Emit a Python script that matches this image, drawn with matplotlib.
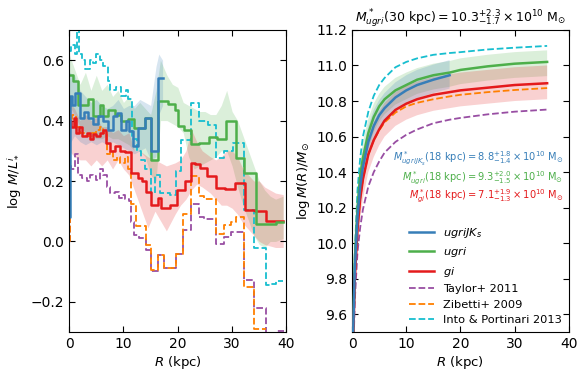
import numpy as np
import matplotlib
matplotlib.use('Agg')
import matplotlib.pyplot as plt

plt.rcParams['xtick.direction'] = 'in'
plt.rcParams['ytick.direction'] = 'in'
plt.rcParams['xtick.top'] = True
plt.rcParams['ytick.right'] = True
plt.rcParams['xtick.major.size'] = 4
plt.rcParams['ytick.major.size'] = 4
plt.rcParams['font.size'] = 9
plt.rcParams['xtick.labelsize'] = 10
plt.rcParams['ytick.labelsize'] = 10
plt.rcParams['mathtext.fontset'] = 'dejavusans'

c_blue = '#377eb8'
c_green = '#4daf4a'
c_red = '#e41a1c'
c_purple = '#984ea3'
c_orange = '#ff7f00'
c_cyan = '#17becf'

# ---- left panel: M/L profiles (bin start, value) ----
r_ugrijk = [0.0, 0.1, 0.6, 1.1, 2.0, 2.8, 3.4, 4.4, 5.3, 6.2, 7.1, 8.0, 8.9, 9.6, 10.4, 11.1, 11.7, 12.6, 13.9, 15.1, 16.3]
ml_ugrijk = [0.08, 0.48, 0.45, 0.49, 0.41, 0.43, 0.41, 0.39, 0.415, 0.40, 0.37, 0.415, 0.425, 0.37, 0.40, 0.365, 0.315, 0.376, 0.41, 0.30, 0.54]
end_ugrijk = 17.2

r_ugri = [0.0, 0.7, 1.6, 3.4, 4.4, 5.6, 6.2, 7.1, 8.4, 9.6, 10.8, 12.0, 13.9, 15.1, 16.3, 18.2, 19.4, 20.0, 21.2, 22.4, 23.9, 25.8, 27.3, 28.8, 30.7, 32.2, 34.4, 36.2, 38.0]
ml_ugri = [0.55, 0.53, 0.45, 0.47, 0.415, 0.45, 0.415, 0.436, 0.42, 0.40, 0.405, 0.376, 0.41, 0.27, 0.464, 0.455, 0.436, 0.381, 0.37, 0.321, 0.327, 0.345, 0.338, 0.398, 0.277, 0.228, 0.059, 0.057, 0.065]
end_ugri = 39.4

r_gi = [0.0, 0.4, 0.9, 1.2, 1.8, 2.4, 3.2, 3.8, 4.4, 5.0, 5.6, 6.2, 6.8, 7.6, 8.4, 9.3, 10.2, 11.4, 12.6, 13.4, 14.2, 15.1, 16.3, 17.0, 18.5, 19.8, 21.3, 22.5, 23.1, 24.1, 25.3, 27.1, 28.7, 30.5, 32.3, 34.2, 36.3]
ml_gi = [0.40, 0.38, 0.41, 0.36, 0.38, 0.35, 0.36, 0.34, 0.355, 0.35, 0.36, 0.37, 0.325, 0.30, 0.315, 0.30, 0.295, 0.225, 0.21, 0.20, 0.165, 0.12, 0.145, 0.11, 0.12, 0.17, 0.20, 0.26, 0.255, 0.243, 0.216, 0.178, 0.175, 0.194, 0.104, 0.10, 0.068]
end_gi = 39.4

r_taylor = [0.0, 0.1, 0.4, 1.1, 1.7, 2.3, 3.2, 3.8, 4.4, 5.0, 5.6, 6.2, 6.9, 7.5, 8.5, 9.1, 9.7, 10.2, 11.1, 11.4, 12.0, 12.95, 14.2, 15.1, 16.3, 17.5, 19.7, 20.9, 22.4, 23.9, 24.85, 27.0, 28.5, 29.8, 32.2, 34.1, 36.2, 38.2]
ml_taylor = [0.0, 0.25, 0.24, 0.29, 0.22, 0.21, 0.20, 0.22, 0.215, 0.205, 0.24, 0.22, 0.18, 0.16, 0.165, 0.145, 0.155, 0.14, 0.135, 0.064, 0.021, 0.01, -0.029, -0.097, -0.045, -0.089, -0.04, 0.037, 0.125, 0.081, 0.075, -0.007, 0.015, 0.031, -0.128, -0.22, -0.35, -0.295]
end_taylor = 39.5

r_zibetti = [0.0, 0.1, 0.5, 1.2, 2.0, 3.0, 4.0, 5.0, 5.6, 6.2, 6.9, 7.5, 8.1, 8.8, 9.3, 10.2, 10.8, 11.4, 12.3, 14.2, 15.1, 16.3, 17.5, 19.7, 20.9, 22.4, 23.9, 24.85, 27.0, 28.5, 29.8, 30.7, 32.2, 34.1]
ml_zibetti = [0.0, 0.40, 0.42, 0.38, 0.36, 0.35, 0.36, 0.37, 0.38, 0.36, 0.29, 0.30, 0.27, 0.28, 0.26, 0.28, 0.24, 0.125, 0.05, -0.012, -0.095, -0.045, -0.089, -0.04, 0.092, 0.218, 0.152, 0.141, 0.026, 0.053, 0.065, 0.081, -0.15, -0.29]
end_zibetti = 36.2

r_into = [0.0, 0.4, 1.0, 1.4, 1.8, 2.3, 2.9, 3.8, 4.4, 5.0, 5.6, 6.2, 7.1, 7.6, 8.6, 9.5, 10.4, 10.9, 11.5, 12.4, 13.3, 14.0, 15.1, 15.8, 16.7, 18.5, 19.6, 20.6, 22.4, 23.9, 25.5, 27.0, 28.5, 30.1, 32.2, 34.1, 36.2, 37.1, 38.0]
ml_into = [0.63, 0.65, 0.62, 0.72, 0.62, 0.60, 0.57, 0.60, 0.59, 0.62, 0.60, 0.58, 0.53, 0.50, 0.51, 0.48, 0.50, 0.47, 0.34, 0.30, 0.27, 0.24, 0.16, 0.22, 0.16, 0.155, 0.233, 0.337, 0.458, 0.398, 0.387, 0.277, 0.299, 0.327, 0.105, -0.023, -0.144, -0.14, -0.13]
end_into = 39.3

# uncertainty bands (R, low, high)
band_r_ugrijk = [0, 1, 2, 3, 4, 5, 6, 7, 8, 9, 10, 11, 12, 13, 14, 15, 16, 16.5, 17.2]
band_lo_ugrijk = [0.32, 0.35, 0.33, 0.32, 0.33, 0.32, 0.33, 0.32, 0.33, 0.32, 0.31, 0.30, 0.29, 0.30, 0.31, 0.27, 0.28, 0.42, 0.45]
band_hi_ugrijk = [0.56, 0.55, 0.50, 0.48, 0.46, 0.47, 0.45, 0.44, 0.45, 0.47, 0.44, 0.45, 0.45, 0.47, 0.46, 0.45, 0.58, 0.62, 0.60]

band_r_ugri = [0, 1, 2, 3, 4, 5, 6, 7, 8, 9, 10, 11, 12, 13, 14, 15, 16, 16.8, 18, 19, 20, 21, 22, 23, 24, 25, 26, 27, 28, 29, 30, 31, 32, 33, 34, 35, 36, 37, 38, 39.4]
band_lo_ugri = [0.45, 0.42, 0.38, 0.36, 0.35, 0.34, 0.34, 0.35, 0.34, 0.34, 0.33, 0.32, 0.30, 0.30, 0.28, 0.22, 0.20, 0.40, 0.40, 0.39, 0.38, 0.36, 0.28, 0.24, 0.25, 0.26, 0.27, 0.28, 0.30, 0.30, 0.25, 0.18, 0.12, 0.07, 0.02, -0.01, -0.02, 0.0, 0.0, 0.01]
band_hi_ugri = [0.62, 0.57, 0.52, 0.56, 0.50, 0.55, 0.50, 0.52, 0.48, 0.50, 0.46, 0.48, 0.44, 0.46, 0.44, 0.42, 0.50, 0.60, 0.55, 0.52, 0.51, 0.46, 0.45, 0.44, 0.43, 0.43, 0.42, 0.42, 0.45, 0.50, 0.43, 0.40, 0.35, 0.30, 0.25, 0.20, 0.17, 0.15, 0.14, 0.15]

band_r_gi = [0, 1, 2, 3, 4, 5, 6, 7, 8, 9, 10, 11, 12, 13, 14.5, 15.8, 17.9, 19.5, 20.5, 21.5, 22.5, 23.5, 24.5, 26, 27, 28, 29, 30, 31, 32, 33, 34, 35, 36, 37, 38, 39.4]
band_lo_gi = [0.30, 0.28, 0.27, 0.27, 0.25, 0.27, 0.25, 0.27, 0.24, 0.27, 0.24, 0.22, 0.17, 0.12, 0.045, 0.10, 0.035, 0.09, 0.12, 0.14, 0.17, 0.19, 0.18, 0.16, 0.14, 0.12, 0.12, 0.11, 0.09, 0.06, 0.04, 0.02, 0.0, -0.01, -0.015, -0.02, -0.02]
band_hi_gi = [0.46, 0.44, 0.40, 0.42, 0.40, 0.41, 0.38, 0.38, 0.36, 0.37, 0.35, 0.36, 0.30, 0.30, 0.28, 0.27, 0.25, 0.26, 0.27, 0.30, 0.37, 0.33, 0.30, 0.28, 0.27, 0.28, 0.30, 0.30, 0.28, 0.24, 0.22, 0.20, 0.20, 0.18, 0.17, 0.16, 0.155]

# ---- right panel: cumulative mass ----
rm = [0.05, 0.2, 0.5, 1, 1.5, 2, 3, 4, 5, 6, 8, 10, 12, 15, 18, 20, 25, 30, 36]
m_ugri = [9.0, 9.5, 9.9, 10.2, 10.38, 10.48, 10.62, 10.71, 10.77, 10.81, 10.86, 10.89, 10.92, 10.945, 10.96, 10.975, 10.995, 11.01, 11.02]
m_gi = [8.9, 9.45, 9.8, 10.08, 10.25, 10.36, 10.5, 10.58, 10.64, 10.69, 10.75, 10.785, 10.81, 10.835, 10.85, 10.86, 10.875, 10.89, 10.90]
m_taylor = [8.7, 9.35, 9.68, 9.95, 10.09, 10.19, 10.32, 10.40, 10.46, 10.51, 10.57, 10.61, 10.64, 10.675, 10.695, 10.705, 10.725, 10.74, 10.752]
m_zibetti = [8.9, 9.45, 9.8, 10.08, 10.25, 10.36, 10.5, 10.58, 10.635, 10.68, 10.735, 10.77, 10.79, 10.81, 10.826, 10.835, 10.85, 10.862, 10.873]
m_into = [9.1, 9.55, 9.95, 10.3, 10.48, 10.6, 10.74, 10.83, 10.89, 10.93, 10.99, 11.02, 11.04, 11.06, 11.07, 11.075, 11.09, 11.10, 11.11]
rm_ugrijk = [0.05, 0.2, 0.5, 1, 1.5, 2, 3, 4, 5, 6, 8, 10, 12, 15, 18]
m_ugrijk = [9.0, 9.5, 9.85, 10.15, 10.32, 10.43, 10.57, 10.66, 10.72, 10.76, 10.82, 10.86, 10.89, 10.92, 10.945]

err_ugri_hi = [0.12, 0.12, 0.11, 0.1, 0.09, 0.09, 0.08, 0.075, 0.07, 0.07, 0.07, 0.07, 0.065, 0.065, 0.065, 0.065, 0.065, 0.065, 0.065]
err_ugri_lo = [0.12, 0.12, 0.11, 0.1, 0.09, 0.09, 0.09, 0.085, 0.085, 0.085, 0.08, 0.08, 0.08, 0.08, 0.08, 0.08, 0.08, 0.08, 0.08]
err_gi_hi = [0.14, 0.14, 0.13, 0.12, 0.11, 0.11, 0.1, 0.1, 0.1, 0.1, 0.1, 0.1, 0.1, 0.1, 0.1, 0.1, 0.1, 0.1, 0.1]
err_gi_lo = [0.14, 0.14, 0.13, 0.12, 0.11, 0.11, 0.1, 0.095, 0.09, 0.09, 0.09, 0.09, 0.09, 0.09, 0.09, 0.09, 0.09, 0.09, 0.09]
err_ugrijk_hi = [0.12, 0.12, 0.11, 0.1, 0.1, 0.09, 0.09, 0.09, 0.085, 0.085, 0.085, 0.085, 0.085, 0.085, 0.085]
err_ugrijk_lo = [0.12, 0.12, 0.11, 0.1, 0.1, 0.09, 0.08, 0.08, 0.075, 0.075, 0.075, 0.075, 0.075, 0.075, 0.075]


def steps(r, v, r_end):
    return np.append(r, r_end), np.append(v, v[-1])


fig = plt.figure(figsize=(5.81, 3.74), dpi=100)
ax1 = fig.add_axes([0.119, 0.112, 0.374, 0.808])
ax2 = fig.add_axes([0.606, 0.112, 0.373, 0.808])

ax1.fill_between(band_r_ugri, band_lo_ugri, band_hi_ugri, color=c_green, alpha=0.2, lw=0)
ax1.fill_between(band_r_gi, band_lo_gi, band_hi_gi, color=c_red, alpha=0.2, lw=0)
ax1.fill_between(band_r_ugrijk, band_lo_ugrijk, band_hi_ugrijk, color=c_blue, alpha=0.2, lw=0)

x, y = steps(r_taylor, ml_taylor, end_taylor)
ax1.step(x, y, where='post', color=c_purple, ls='--', lw=1.3)
x, y = steps(r_zibetti, ml_zibetti, end_zibetti)
ax1.step(x, y, where='post', color=c_orange, ls='--', lw=1.3)
x, y = steps(r_into, ml_into, end_into)
ax1.step(x, y, where='post', color=c_cyan, ls='--', lw=1.3)
x, y = steps(r_gi, ml_gi, end_gi)
ax1.step(x, y, where='post', color=c_red, lw=1.8)
x, y = steps(r_ugri, ml_ugri, end_ugri)
ax1.step(x, y, where='post', color=c_green, lw=1.8)
x, y = steps(r_ugrijk, ml_ugrijk, end_ugrijk)
ax1.step(x, y, where='post', color=c_blue, lw=1.8)

ax1.set_xlim(0, 40)
ax1.set_ylim(-0.3, 0.7)
ax1.set_xticks([0, 10, 20, 30, 40])
ax1.set_yticks([-0.2, 0.0, 0.2, 0.4, 0.6])
ax1.set_xlabel(r'$R$ (kpc)', fontsize=9.5, labelpad=2)
ax1.set_ylabel(r'$\log\,M/L^i_*$', fontsize=9.5, labelpad=5)

# right panel
rm_a = np.array(rm)
rj = np.array(rm_ugrijk)
ax2.fill_between(rm_a, np.array(m_ugri) - err_ugri_lo, np.array(m_ugri) + err_ugri_hi, color=c_green, alpha=0.2, lw=0)
ax2.fill_between(rm_a, np.array(m_gi) - err_gi_lo, np.array(m_gi) + err_gi_hi, color=c_red, alpha=0.2, lw=0)
ax2.fill_between(rj, np.array(m_ugrijk) - err_ugrijk_lo, np.array(m_ugrijk) + err_ugrijk_hi, color=c_blue, alpha=0.2, lw=0)

ax2.plot(rj, m_ugrijk, color=c_blue, lw=1.8, label=r'$ugriJK_s$', zorder=5)
ax2.plot(rm_a, m_ugri, color=c_green, lw=1.8, label=r'$ugri$', zorder=4)
ax2.plot(rm_a, m_gi, color=c_red, lw=1.8, label=r'$gi$', zorder=4)
ax2.plot(rm_a, m_taylor, color=c_purple, ls='--', lw=1.3, label='Taylor+ 2011')
ax2.plot(rm_a, m_zibetti, color=c_orange, ls='--', lw=1.3, label='Zibetti+ 2009')
ax2.plot(rm_a, m_into, color=c_cyan, ls='--', lw=1.3, label='Into & Portinari 2013')

ax2.set_xlim(0, 40)
ax2.set_ylim(9.5, 11.2)
ax2.set_xticks([0, 10, 20, 30, 40])
ax2.set_yticks([9.6, 9.8, 10.0, 10.2, 10.4, 10.6, 10.8, 11.0, 11.2])
ax2.set_xlabel(r'$R$ (kpc)', fontsize=9.5, labelpad=2)
ax2.set_ylabel(r'$\log M(R)/M_{\odot}$', fontsize=9.5, labelpad=3)
ax2.set_title(r'$M^*_{ugri}(30\ \mathrm{kpc}) = 10.3^{+2.3}_{-1.7}\times10^{10}\ \mathrm{M_{\odot}}$', fontsize=9, pad=5)

ax2.text(0.975, 0.575, r'$M^*_{ugriJK_s}(18\ \mathrm{kpc}) = 8.8^{+1.8}_{-1.4}\times10^{10}\ \mathrm{M_{\odot}}$',
         transform=ax2.transAxes, ha='right', va='center', fontsize=7.1, color=c_blue)
ax2.text(0.975, 0.508, r'$M^*_{ugri}(18\ \mathrm{kpc}) = 9.3^{+2.0}_{-1.5}\times10^{10}\ \mathrm{M_{\odot}}$',
         transform=ax2.transAxes, ha='right', va='center', fontsize=7.1, color=c_green)
ax2.text(0.975, 0.45, r'$M^*_{gi}(18\ \mathrm{kpc}) = 7.1^{+1.9}_{-1.3}\times10^{10}\ \mathrm{M_{\odot}}$',
         transform=ax2.transAxes, ha='right', va='center', fontsize=7.1, color=c_red)

ax2.legend(loc='lower right', frameon=False, fontsize=8.2, handlelength=2.2,
           labelspacing=0.48, borderaxespad=0.2)

fig.savefig('out.png', dpi=100)
